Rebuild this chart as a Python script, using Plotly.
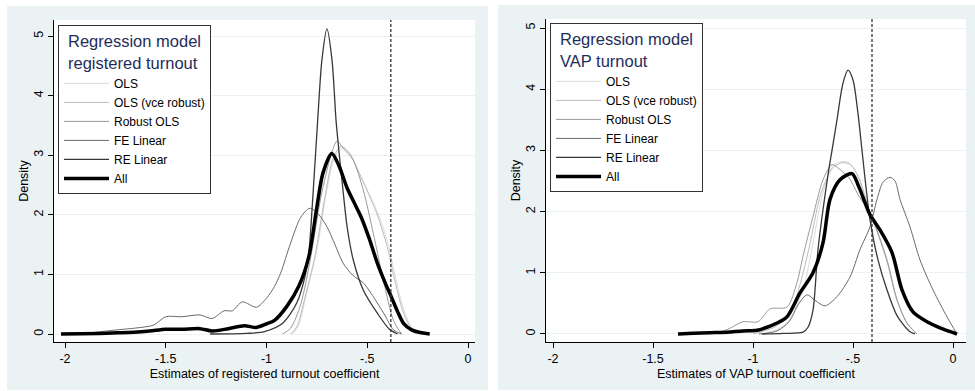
import plotly.graph_objects as go

# ---------------- data ----------------
series_names = ["OLS", "OLS (vce robust)", "Robust OLS", "FE Linear", "RE Linear", "All"]

# Left panel: registered turnout coefficient
reg_ols_x = [-0.87, -0.84, -0.80, -0.75, -0.70, -0.66, -0.62, -0.585, -0.55, -0.50, -0.45, -0.40, -0.36, -0.32, -0.28, -0.25]
reg_ols_y = [0.0, 0.15, 0.70, 1.41, 2.42, 2.98, 3.12, 3.02, 2.75, 2.42, 2.05, 1.55, 0.95, 0.42, 0.10, 0.0]
reg_vce_x = [-0.88, -0.85, -0.81, -0.76, -0.71, -0.67, -0.63, -0.59, -0.55, -0.50, -0.45, -0.40, -0.36, -0.32, -0.28, -0.26]
reg_vce_y = [0.0, 0.12, 0.60, 1.30, 2.30, 2.95, 3.15, 3.05, 2.78, 2.40, 2.00, 1.45, 0.85, 0.35, 0.08, 0.0]
reg_rob_x = [-0.92, -0.88, -0.83, -0.78, -0.73, -0.68, -0.65, -0.62, -0.57, -0.52, -0.47, -0.42, -0.37, -0.33]
reg_rob_y = [0.0, 0.10, 0.50, 1.30, 2.30, 3.00, 3.24, 3.12, 2.92, 2.42, 1.69, 0.90, 0.23, 0.0]
reg_fe_x = [-2.02, -1.91, -1.74, -1.65, -1.56, -1.50, -1.42, -1.33, -1.27, -1.21, -1.17, -1.12, -1.05, -1.00, -0.96,
            -0.93, -0.88, -0.83, -0.785, -0.74, -0.70, -0.66, -0.62, -0.57, -0.52, -0.48, -0.45, -0.41, -0.37, -0.33]
reg_fe_y = [0.0, 0.01, 0.07, 0.10, 0.15, 0.29, 0.29, 0.32, 0.26, 0.39, 0.39, 0.54, 0.45, 0.60, 0.80,
            1.02, 1.53, 1.96, 2.11, 2.00, 1.80, 1.50, 1.19, 0.98, 0.86, 0.68, 0.52, 0.30, 0.07, 0.0]
reg_re_x = [-1.28, -1.10, -1.01, -0.92, -0.85, -0.81, -0.79, -0.77, -0.746, -0.725, -0.70, -0.675, -0.655, -0.64,
            -0.62, -0.60, -0.57, -0.52, -0.45, -0.39, -0.35]
reg_re_y = [0.0, 0.01, 0.04, 0.18, 0.52, 0.95, 1.36, 2.30, 3.59, 4.60, 5.12, 4.60, 3.59, 3.05,
            2.40, 1.80, 1.25, 0.74, 0.35, 0.08, 0.0]
reg_all_x = [-2.02, -1.83, -1.74, -1.66, -1.58, -1.50, -1.42, -1.33, -1.27, -1.19, -1.11, -1.05, -1.00, -0.96,
             -0.90, -0.84, -0.79, -0.75, -0.72, -0.676, -0.64, -0.60, -0.56, -0.53, -0.49, -0.45, -0.41, -0.38,
             -0.35, -0.32, -0.28, -0.23, -0.19]
reg_all_y = [0.0, 0.01, 0.02, 0.03, 0.05, 0.08, 0.08, 0.09, 0.05, 0.09, 0.14, 0.11, 0.17, 0.23,
             0.46, 0.80, 1.30, 2.13, 2.70, 3.03, 2.82, 2.45, 2.17, 1.96, 1.60, 1.19, 0.85, 0.62,
             0.38, 0.18, 0.07, 0.02, 0.0]
reg_ref_value = -0.383

# Right panel: VAP turnout coefficient
vap_ols_x = [-0.965, -0.90, -0.83, -0.75, -0.70, -0.65, -0.60, -0.555, -0.52, -0.48, -0.415, -0.37, -0.33, -0.28, -0.23, -0.18]
vap_ols_y = [0.0, 0.05, 0.18, 0.72, 1.49, 2.31, 2.75, 2.82, 2.80, 2.60, 1.98, 1.60, 1.21, 0.56, 0.18, 0.0]
vap_vce_x = [-1.00, -0.90, -0.82, -0.77, -0.72, -0.66, -0.60, -0.55, -0.51, -0.47, -0.415, -0.37, -0.33, -0.28, -0.23, -0.18]
vap_vce_y = [0.0, 0.10, 0.30, 0.75, 1.40, 2.30, 2.72, 2.80, 2.76, 2.55, 1.98, 1.58, 1.18, 0.55, 0.17, 0.0]
vap_rob_x = [-1.365, -1.20, -1.13, -1.05, -0.975, -0.915, -0.83, -0.78, -0.75, -0.70, -0.65, -0.605, -0.57,
             -0.52, -0.47, -0.415, -0.33, -0.28, -0.23, -0.18]
vap_rob_y = [0.0, 0.02, 0.07, 0.20, 0.20, 0.41, 0.44, 0.84, 1.27, 1.92, 2.52, 2.77, 2.70,
             2.55, 2.25, 1.98, 1.21, 0.56, 0.18, 0.0]
vap_fe_x = [-0.97, -0.88, -0.82, -0.77, -0.73, -0.69, -0.64, -0.58, -0.515, -0.465, -0.415, -0.38, -0.35,
            -0.315, -0.29, -0.265, -0.215, -0.165, -0.10, -0.03, 0.02]
vap_fe_y = [0.0, 0.05, 0.20, 0.50, 0.64, 0.55, 0.46, 0.61, 0.93, 1.38, 1.75, 2.20, 2.48,
            2.56, 2.50, 2.20, 1.75, 1.21, 0.72, 0.28, 0.0]
vap_re_x = [-0.955, -0.85, -0.75, -0.725, -0.70, -0.675, -0.625, -0.605, -0.58, -0.55, -0.525, -0.50, -0.475,
            -0.455, -0.435, -0.415, -0.375, -0.33, -0.28, -0.22, -0.19]
vap_re_y = [0.0, 0.01, 0.03, 0.11, 0.39, 1.38, 2.60, 3.00, 3.50, 4.10, 4.31, 4.15, 3.60,
            3.00, 2.40, 1.87, 1.21, 0.72, 0.30, 0.05, 0.0]
vap_all_x = [-1.375, -1.30, -1.215, -1.13, -1.05, -0.98, -0.93, -0.88, -0.83, -0.765, -0.70, -0.65, -0.615,
             -0.565, -0.505, -0.47, -0.415, -0.365, -0.305, -0.255, -0.20, -0.13, -0.065, 0.02]
vap_all_y = [0.0, 0.01, 0.02, 0.03, 0.05, 0.06, 0.11, 0.18, 0.28, 0.67, 1.00, 1.49, 2.20,
             2.52, 2.62, 2.40, 1.95, 1.70, 1.33, 0.72, 0.36, 0.20, 0.10, 0.0]
vap_ref_value = -0.405

y_tickvals = [0, 1, 2, 3, 4, 5]
y_ticktext = ["0", "1", "2", "3", "4", "5"]
x_tickvals = [-2, -1.5, -1, -0.5, 0]
x_ticktext = ["-2", "-1.5", "-1", "-.5", "0"]

x_title_left = "Estimates of registered turnout coefficient"
x_title_right = "Estimates of VAP turnout coefficient"
legend_title_left = "Regression model<br>registered turnout"
legend_title_right = "Regression model<br>VAP turnout"

# ---------------- styles ----------------
colors = ["#dcdcdc", "#bcbcbc", "#9a9a9a", "#6a6a6a", "#383838", "#000000"]
widths = [1, 1, 1, 1, 1.3, 3.5]
FONT = "Liberation Sans, Arial, sans-serif"
PANEL = "#eaf2f3"
W, H = 975, 391

left_sets = [(reg_ols_x, reg_ols_y), (reg_vce_x, reg_vce_y), (reg_rob_x, reg_rob_y),
             (reg_fe_x, reg_fe_y), (reg_re_x, reg_re_y), (reg_all_x, reg_all_y)]
right_sets = [(vap_ols_x, vap_ols_y), (vap_vce_x, vap_vce_y), (vap_rob_x, vap_rob_y),
              (vap_fe_x, vap_fe_y), (vap_re_x, vap_re_y), (vap_all_x, vap_all_y)]

fig = go.Figure()
for i, (xs, ys) in enumerate(left_sets):
    fig.add_trace(go.Scatter(x=xs, y=ys, mode="lines", name=series_names[i],
                             line=dict(color=colors[i], width=widths[i], shape="spline", smoothing=0.8),
                             xaxis="x", yaxis="y", legend="legend"))
for i, (xs, ys) in enumerate(right_sets):
    fig.add_trace(go.Scatter(x=xs, y=ys, mode="lines", name=series_names[i],
                             line=dict(color=colors[i], width=widths[i], shape="spline", smoothing=0.8),
                             xaxis="x2", yaxis="y2", legend="legend2"))

# plot area pixel boxes
L = dict(x0=54, x1=475, y0=20, y1=342)
R = dict(x0=546, x1=966, y0=19, y1=342)


def dom_x(b):
    return [b["x0"] / W, b["x1"] / W]


def dom_y(b):
    return [1 - b["y1"] / H, 1 - b["y0"] / H]


axis_common = dict(showline=True, linecolor="#000000", linewidth=1, ticks="outside", ticklen=5,
                   tickcolor="#000000", tickfont=dict(size=12.5, color="#000000", family=FONT),
                   zeroline=False)

xaxis_common = dict(axis_common, tickvals=x_tickvals, ticktext=x_ticktext, showgrid=False)
yaxis_common = dict(axis_common, tickvals=y_tickvals, ticktext=y_ticktext, showgrid=True,
                    gridcolor=PANEL, gridwidth=1, tickangle=-90)

legend_common = dict(xanchor="left", yanchor="top", bgcolor="#ffffff", bordercolor="#333333",
                     borderwidth=1, font=dict(size=12, color="#000000", family=FONT), itemwidth=45)

fig.update_layout(
    width=W, height=H,
    margin=dict(l=0, r=0, t=0, b=0),
    paper_bgcolor="#ffffff", plot_bgcolor="#ffffff",
    font=dict(family=FONT, size=12, color="#000000"),
    xaxis=dict(xaxis_common, domain=dom_x(L), range=[-2.0546, 0.0347], anchor="y",
               title=dict(text=x_title_left, standoff=4, font=dict(size=12.5))),
    yaxis=dict(yaxis_common, domain=dom_y(L), range=[-0.134, 5.27], anchor="x",
               title=dict(text="Density", standoff=0, font=dict(size=12.5))),
    xaxis2=dict(xaxis_common, domain=dom_x(R), range=[-2.035, 0.065], anchor="y2",
                title=dict(text=x_title_right, standoff=4, font=dict(size=12.5))),
    yaxis2=dict(yaxis_common, domain=dom_y(R), range=[-0.131, 5.147], anchor="x2",
                title=dict(text="Density", standoff=0, font=dict(size=12.5))),
    legend=dict(legend_common, x=58 / W, y=1 - 25 / H,
                title=dict(text=legend_title_left, side="top center",
                           font=dict(size=16.5, color="#1f2d5c", family=FONT))),
    legend2=dict(legend_common, x=550 / W, y=1 - 23 / H,
                 title=dict(text=legend_title_right, side="top center",
                            font=dict(size=16.5, color="#1f2d5c", family=FONT))),
    showlegend=True,
)

shapes = []
# panel backgrounds
shapes.append(dict(type="rect", xref="paper", yref="paper", x0=7 / W, x1=488 / W, y0=1 / H, y1=1 - 6 / H,
                   fillcolor=PANEL, line=dict(width=0), layer="below"))
shapes.append(dict(type="rect", xref="paper", yref="paper", x0=498 / W, x1=1, y0=1 / H, y1=1 - 5 / H,
                   fillcolor=PANEL, line=dict(width=0), layer="below"))
# white plot areas
for b in (L, R):
    shapes.append(dict(type="rect", xref="paper", yref="paper", x0=b["x0"] / W, x1=b["x1"] / W,
                       y0=1 - b["y1"] / H, y1=1 - b["y0"] / H, fillcolor="#ffffff",
                       line=dict(width=0), layer="below"))
# reference (dashed) lines
shapes.append(dict(type="line", xref="x", yref="y domain", x0=reg_ref_value, x1=reg_ref_value, y0=0, y1=1,
                   line=dict(color="#333333", width=1.3, dash="3px,2px")))
shapes.append(dict(type="line", xref="x2", yref="y2 domain", x0=vap_ref_value, x1=vap_ref_value, y0=0, y1=1,
                   line=dict(color="#333333", width=1.3, dash="3px,2px")))
fig.update_layout(shapes=shapes)

fig.write_html("out.html")
